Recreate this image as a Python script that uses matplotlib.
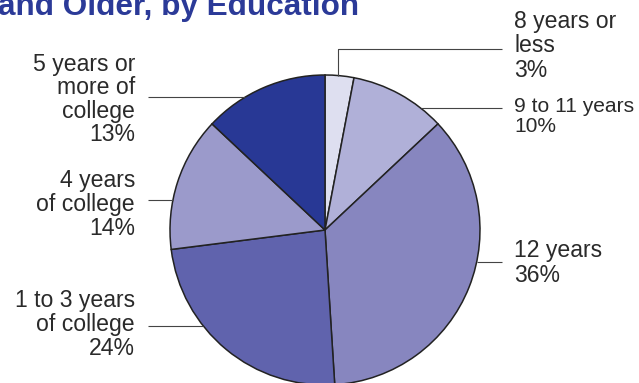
import math
import matplotlib
matplotlib.use("Agg")
import matplotlib.pyplot as plt

plt.rcParams['font.family'] = ['Liberation Sans', 'DejaVu Sans']

# Educational attainment shares (percent), clockwise from 12 o'clock
categories = ["8 years or less", "9 to 11 years", "12 years",
              "1 to 3 years of college", "4 years of college",
              "5 years or more of college"]
shares = [3, 10, 36, 24, 14, 13]
label_lines = [["8 years or", "less"],
               ["9 to 11 years"],
               ["12 years"],
               ["1 to 3 years", "of college"],
               ["4 years", "of college"],
               ["5 years or", "more of", "college"]]
colors = ["#dedff0", "#b0b0d8", "#8786bf", "#6063ad", "#9b9acb", "#283895"]
title = "and Older, by Education"

W, H = 639, 383
fig = plt.figure(figsize=(W / 100, H / 100), dpi=100)
ax = fig.add_axes([0, 0, 1, 1])

cx, cy, r = 325, 230, 155  # pixel units, y measured from top


def Y(py):
    return H - py


ax.pie(shares, colors=colors, startangle=90, counterclock=False,
       center=(cx, Y(cy)), radius=r, frame=False,
       wedgeprops=dict(edgecolor="#222222", linewidth=1.1))
ax.set_xlim(0, W)
ax.set_ylim(0, H)
ax.set_aspect('auto')
ax.axis('off')

line_kw = dict(color="#444444", lw=0.8, solid_capstyle='butt')


def edge_x(py, side):
    dy = py - cy
    return cx + side * math.sqrt(r * r - dy * dy)


# leader lines
ax.plot([338, 338, 502], [Y(cy - math.sqrt(r * r - 13 ** 2)), Y(49), Y(49)], **line_kw)
ax.plot([edge_x(108, 1), 502], [Y(108), Y(108)], **line_kw)
ax.plot([edge_x(262, 1), 502], [Y(262), Y(262)], **line_kw)
ax.plot([148, edge_x(326, -1)], [Y(326), Y(326)], **line_kw)
ax.plot([148, edge_x(200, -1)], [Y(200), Y(200)], **line_kw)
ax.plot([148, edge_x(97, -1)], [Y(97), Y(97)], **line_kw)

# label placement: (x, ha, first baseline, line step, font px)
placement = [
    (514, 'left', 28, 24.5, 23),
    (514, 'left', 112, 20, 21),
    (514, 'left', 257, 25, 23),
    (135, 'right', 307, 24, 23),
    (135, 'right', 187, 24, 23),
    (135, 'right', 71, 23.4, 23),
]

for lines, share, (x, ha, b0, step, px) in zip(label_lines, shares, placement):
    rows = lines + [f"{share}%"]
    for i, row in enumerate(rows):
        ax.text(x, Y(b0 + i * step), row, ha=ha, va='baseline',
                fontsize=px * 0.72, color="#2a2a2a")

ax.text(-2, Y(15), title, ha='left', va='baseline', fontsize=22.7,
        fontweight='bold', color="#2b3a98")

fig.savefig("out.png", dpi=100)
